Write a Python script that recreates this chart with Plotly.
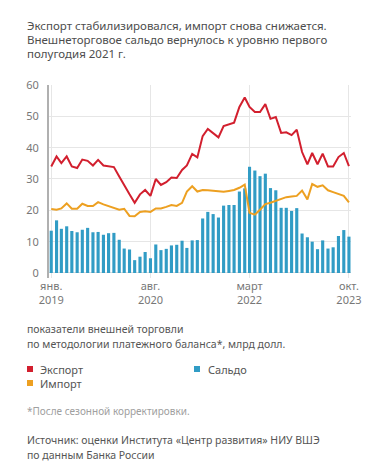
import pandas as pd
import plotly.graph_objects as go

months = pd.date_range("2019-01-01", periods=58, freq="MS")

export_vals = [34.0, 37.2, 35.1, 37.2, 34.0, 33.5, 36.2, 35.8, 34.3, 36.1,
               34.3, 34.1, 33.8, 30.8, 27.9, 25.1, 22.4, 25.1, 26.5, 24.6,
               30.0, 28.1, 29.0, 30.5, 30.3, 32.9, 34.3, 38.0, 36.9, 43.7,
               46.0, 44.7, 43.3, 46.9, 47.4, 48.0, 53.0, 56.0, 53.0, 51.4,
               51.4, 53.9, 49.2, 49.8, 44.7, 44.9, 44.0, 45.7, 38.6, 34.7,
               38.3, 34.7, 38.1, 34.0, 34.0, 37.0, 38.3, 34.1]
import_vals = [20.4, 20.2, 20.6, 22.2, 20.5, 20.5, 22.1, 21.4, 21.4, 22.6,
               21.9, 21.4, 20.8, 20.2, 20.5, 18.2, 18.1, 19.5, 19.7, 19.5,
               20.6, 20.6, 21.1, 21.7, 21.4, 22.4, 26.0, 27.7, 26.0, 26.5,
               26.4, 26.2, 26.0, 25.9, 26.2, 26.5, 27.2, 28.2, 19.2, 18.6,
               20.2, 22.0, 22.4, 23.0, 23.7, 24.2, 24.4, 24.6, 26.3, 23.5,
               28.4, 27.5, 28.0, 26.4, 25.8, 25.2, 24.6, 22.5]
saldo_vals = [13.5, 16.8, 14.1, 14.9, 13.4, 13.0, 13.8, 14.4, 13.0, 13.1,
              12.2, 12.7, 12.8, 10.6, 7.8, 7.5, 4.1, 5.2, 6.7, 4.7,
              9.1, 7.3, 7.7, 8.8, 9.0, 10.3, 8.0, 10.4, 10.5, 17.4,
              19.5, 18.8, 17.7, 21.5, 21.7, 21.7, 26.0, 27.0, 33.9, 32.7,
              30.9, 31.7, 27.1, 26.4, 20.8, 20.8, 19.8, 20.7, 12.6, 11.4,
              10.0, 7.6, 10.4, 7.8, 8.2, 11.8, 13.7, 11.6]

tick_dates = ["2019-01-01", "2020-08-01", "2022-03-01", "2023-10-01"]
tick_labels = ["янв.<br>2019", "авг.<br>2020", "март<br>2022", "окт.<br>2023"]
y_ticks = [0, 10, 20, 30, 40, 50, 60]

RED = "#d21f2e"
ORANGE = "#eda021"
BLUE = "#319cc5"
FONT = "Noto Sans"

W, H = 371, 466
L, R, T, B = 41, 28, 77, 196
PW, PH = W - L - R, H - T - B


def px(x):
    return (x - L) / PW


def py(y):
    return (H - B - y) / PH


fig = go.Figure()
fig.add_trace(go.Bar(x=months, y=saldo_vals, name="Сальдо", marker_color=BLUE,
                     marker_line_width=0, showlegend=False))
fig.add_trace(go.Scatter(x=months, y=export_vals, name="Экспорт", mode="lines",
                         line=dict(color=RED, width=2), showlegend=False))
fig.add_trace(go.Scatter(x=months, y=import_vals, name="Импорт", mode="lines",
                         line=dict(color=ORANGE, width=2), showlegend=False))

fig.update_layout(
    width=W, height=H,
    margin=dict(l=L, r=R, t=T, b=B),
    paper_bgcolor="white", plot_bgcolor="white",
    bargap=0.35,
    font=dict(family=FONT, size=11, color="#555555"),
    xaxis=dict(
        range=["2018-12-19", "2023-10-13"],
        tickvals=tick_dates, ticktext=tick_labels,
        showgrid=True, gridcolor="#e6e6e6", gridwidth=1,
        zeroline=False, showline=False, ticks="",
        tickfont=dict(family=FONT, size=11, color="#777777"),
    ),
    yaxis=dict(
        range=[-1.6, 60], tickvals=y_ticks,
        showgrid=True, gridcolor="#e6e6e6", gridwidth=1,
        zeroline=True, zerolinecolor="#dddddd", zerolinewidth=1,
        showline=True, linecolor="#b0b0b0", linewidth=2,
        ticks="", ticklabelstandoff=6,
        tickfont=dict(family=FONT, size=11, color="#777777"),
    ),
)

anns = []


def text(x, y, s, size=11, color="#555555"):
    anns.append(dict(x=px(x), y=py(y), xref="paper", yref="paper", text=s,
                     showarrow=False, xanchor="left", yanchor="middle",
                     font=dict(family=FONT, size=size, color=color)))


TITLE = ["Экспорт стабилизировался, импорт снова снижается.",
         "Внешнеторговое сальдо вернулось к уровню первого",
         "полугодия 2021 г."]
for i, s in enumerate(TITLE):
    text(17, 17 + i * 14, s, size=11.5, color="#4d4d4d")

text(17, 321, "показатели внешней торговли", size=10.5)
text(17, 336, "по методологии платежного баланса*, млрд долл.", size=10.5)

text(30, 361, "Экспорт", size=11)
text(30, 375, "Импорт", size=11)
text(198, 361, "Сальдо", size=11)

text(17, 403, "*После сезонной корректировки.", size=10, color="#a0a0a0")
text(17, 432, "Источник: оценки Института «Центр развития» НИУ ВШЭ", size=10.5)
text(17, 447, "по данным Банка России", size=10.5)

fig.update_layout(annotations=anns)

shapes = []
for (x0, yc, col) in [(19, 361, RED), (19, 375, ORANGE), (186, 361, BLUE)]:
    shapes.append(dict(type="rect", xref="paper", yref="paper",
                       x0=px(x0), x1=px(x0 + 6), y0=py(yc + 3), y1=py(yc - 3),
                       fillcolor=col, line=dict(width=0)))
fig.update_layout(shapes=shapes)

fig.write_html("out.html")
